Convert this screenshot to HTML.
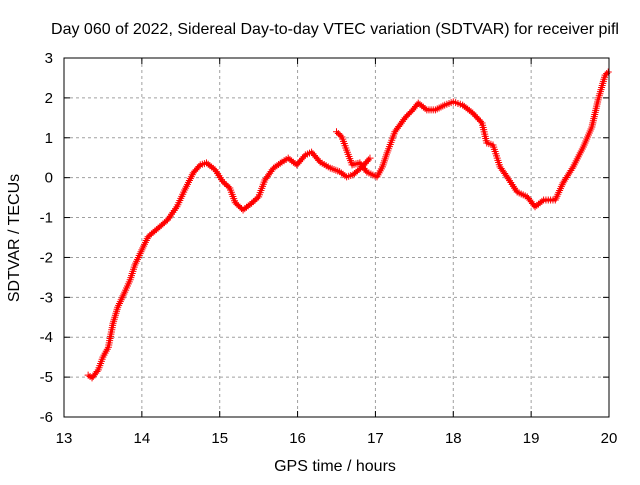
<!DOCTYPE html>
<html><head><meta charset="utf-8"><style>
body{margin:0;background:#fff}
svg{font-family:"Liberation Sans",sans-serif;font-size:15px}
</style></head><body>
<svg id="c" width="640" height="480">
<rect width="640" height="480" fill="#fff"/>
<text x="335" y="34" text-anchor="middle" font-size="16">Day 060 of 2022, Sidereal Day-to-day VTEC variation (SDTVAR) for receiver pifl</text>
<text x="335" y="471" text-anchor="middle" font-size="16">GPS time / hours</text>
<text transform="translate(19,238) rotate(-90)" text-anchor="middle" font-size="16">SDTVAR / TECUs</text>
<g id="grid"></g><g id="ticks"></g><g id="marks"></g>
<rect x="64" y="58" width="545" height="359" fill="none" stroke="#000"/>
</svg>
<script>
const xTicks=[13,14,15,16,17,18,19,20];
const yTicks=[3,2,1,0,-1,-2,-3,-4,-5,-6];
const mainHours=[13.31,13.36,13.44,13.5,13.57,13.63,13.69,13.78,13.85,13.91,14.0,14.08,14.23,14.33,14.45,14.55,14.66,14.75,14.83,14.94,15.04,15.13,15.2,15.3,15.41,15.5,15.58,15.69,15.8,15.88,15.99,16.1,16.18,16.29,16.42,16.54,16.63,16.71,16.83,16.93];
const mainValues=[-4.95,-5.02,-4.82,-4.5,-4.25,-3.65,-3.25,-2.87,-2.56,-2.19,-1.81,-1.48,-1.23,-1.06,-0.73,-0.31,0.12,0.32,0.37,0.2,-0.1,-0.26,-0.63,-0.81,-0.64,-0.48,-0.06,0.24,0.39,0.49,0.32,0.57,0.64,0.39,0.24,0.15,0.02,0.07,0.27,0.49];
const secondHours=[16.5,16.57,16.63,16.7,16.8,16.89,17.02,17.09,17.15,17.25,17.38,17.48,17.55,17.66,17.77,17.89,18.0,18.12,18.25,18.37,18.43,18.51,18.6,18.69,18.82,18.95,19.05,19.16,19.31,19.41,19.54,19.67,19.78,19.86,19.95,19.99];
const secondValues=[1.15,1.02,0.69,0.32,0.37,0.14,0.02,0.27,0.62,1.15,1.5,1.7,1.87,1.7,1.7,1.82,1.9,1.82,1.62,1.37,0.87,0.82,0.27,0.02,-0.36,-0.48,-0.73,-0.56,-0.56,-0.13,0.27,0.77,1.27,1.95,2.57,2.65];
const NS='http://www.w3.org/2000/svg';
const X=h=>64+(h-13)*545/7, Y=v=>58+(3-v)*359/9;
function mk(t,a,p){const e=document.createElementNS(NS,t);for(const k in a)e.setAttribute(k,a[k]);p.appendChild(e);return e;}
const grid=document.getElementById('grid'),ticks=document.getElementById('ticks'),marks=document.getElementById('marks');
xTicks.forEach(t=>{const x=X(t);
 if(t>13&&t<20){const l=mk('line',{x1:x,x2:x,y1:58,y2:417,stroke:'#a0a0a0','stroke-dasharray':'3,3'},grid);
 
 }
 mk('line',{x1:x,x2:x,y1:417,y2:411,stroke:'#000'},ticks);mk('line',{x1:x,x2:x,y1:58,y2:64,stroke:'#000'},ticks);
 const s=mk('text',{x:x,y:443,'text-anchor':'middle'},ticks);s.textContent=t;
 
 });
yTicks.forEach(t=>{const y=Y(t);
 if(t<3&&t>-6){const l=mk('line',{x1:64,x2:609,y1:y,y2:y,stroke:'#a0a0a0','stroke-dasharray':'3,3'},grid);
 
 }
 mk('line',{x1:64,x2:70,y1:y,y2:y,stroke:'#000'},ticks);mk('line',{x1:603,x2:609,y1:y,y2:y,stroke:'#000'},ticks);
 const s=mk('text',{x:53,y:y+5,'text-anchor':'end'},ticks);s.textContent=t;
 
 });
function series(hs,vs,name){
 const g=mk('g',{},marks);
 
 
 let d='';
 for(let i=0;i<hs.length;i++){d+=(i?'L':'M')+X(hs[i])+','+Y(vs[i]);}
 mk('path',{d:d,fill:'none',stroke:'#f00','stroke-width':3,'stroke-linejoin':'round'},g);
 let pd='';
 for(let i=0;i<hs.length;i++){
  const x0=X(hs[i]),y0=Y(vs[i]);
  if(i<hs.length-1){const x1=X(hs[i+1]),y1=Y(vs[i+1]);const n=Math.max(1,Math.round(Math.hypot(x1-x0,y1-y0)/2.2));
   for(let k=0;k<n;k++){const x=x0+(x1-x0)*k/n,y=y0+(y1-y0)*k/n;pd+=`M${x-3.5},${y}h7M${x},${y-3.5}v7`;}}
  else pd+=`M${x0-3.5},${y0}h7M${x0},${y0-3.5}v7`;
 }
 mk('path',{d:pd,fill:'none',stroke:'#f00','stroke-width':1},g);
}
series(mainHours,mainValues,'sdtvar-series-a');
series(secondHours,secondValues,'sdtvar-series-b');
</script>
</body></html>
